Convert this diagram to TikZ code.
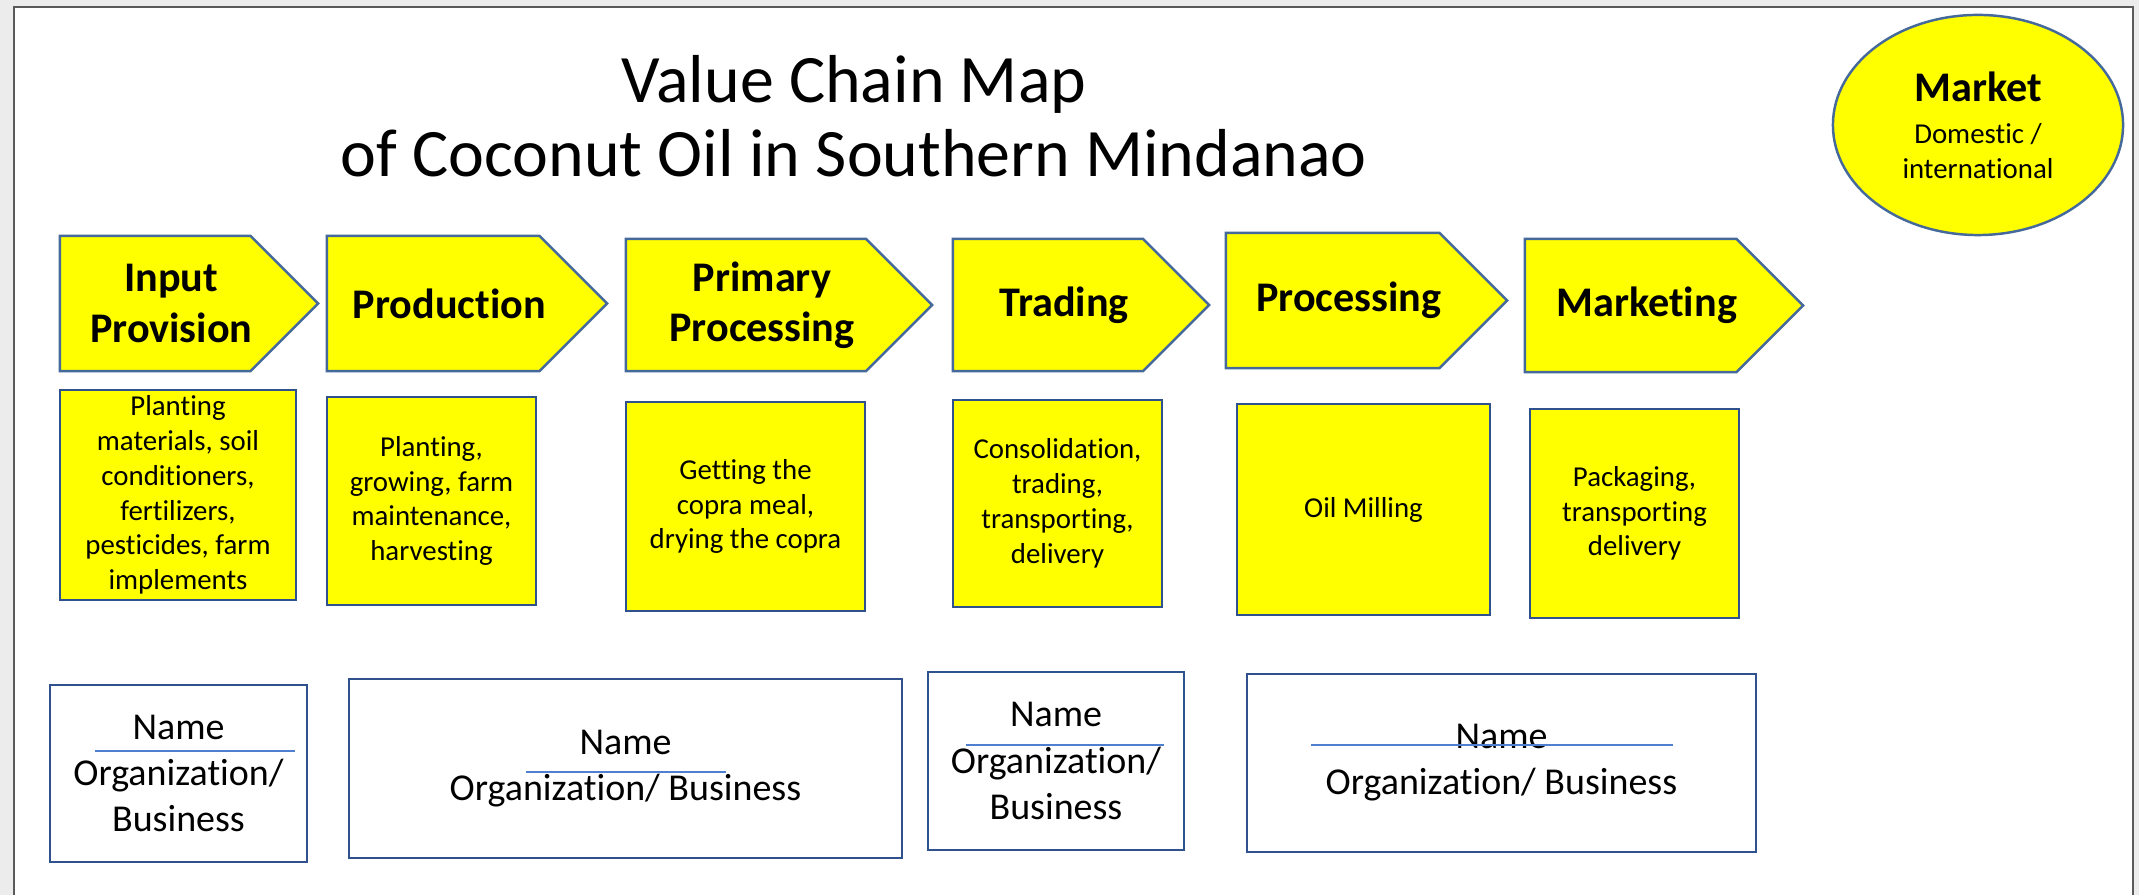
\documentclass[tikz,border=0pt]{standalone}
\usepackage{fontspec}
\setmainfont{Carlito}[Ligatures=NoCommon]
\usetikzlibrary{shapes.symbols,shapes.geometric}

\definecolor{chainyellow}{HTML}{FFFF00}
\definecolor{chainedge}{HTML}{44699A}
\definecolor{boxedge}{HTML}{2F528F}
\definecolor{sepblue}{HTML}{4F7FD0}
\definecolor{slidegray}{HTML}{ECECEC}
\definecolor{framegray}{HTML}{5A5A5A}

\tikzset{
  stage/.style={signal, signal to=east, signal pointer angle=90,
    draw=chainedge, fill=chainyellow, line width=0.7pt, inner sep=0pt},
  stagetext/.style={inner sep=0pt, align=center,
    font=\fontsize{12}{14.3}\selectfont\bfseries},
  task/.style={rectangle, draw=boxedge, fill=chainyellow, line width=0.7pt,
    inner sep=0pt, align=center, font=\fontsize{8.2}{9.9}\selectfont},
  actor/.style={rectangle, draw=boxedge, fill=white, line width=0.7pt,
    inner sep=0pt, align=center, font=\fontsize{10.8}{13.1}\selectfont},
  sepline/.style={draw=sepblue, line width=0.8pt}
}

\begin{document}
\begin{tikzpicture}[x=0.01cm,y=-0.01cm]

  \useasboundingbox (0,0) rectangle (2139,895);
  \fill[slidegray] (0,0) rectangle (2139,895);
  \draw[framegray, fill=white, line width=0.6pt] (14,7) rectangle (2133,905);

  % title
  \node[font=\fontsize{19.3}{21}\selectfont, anchor=base] (title1) at (854,103) {Value Chain Map};
  \node[font=\fontsize{19.3}{21}\selectfont, anchor=base] (title2) at (854,177) {of Coconut Oil in Southern Mindanao};

  \node[ellipse, draw=chainedge, fill=chainyellow, line width=0.7pt, inner sep=0pt,
        minimum width=2.90cm, minimum height=2.20cm, align=center,
        font=\fontsize{8.2}{10}\selectfont] (market) at (1978,125)
        {{\fontsize{12}{14}\selectfont\bfseries Market}\\[2pt]Domestic /\\international};

  \begin{scope}[every node/.style=stage]
    \node[minimum width=2.58cm, minimum height=1.35cm] (1) at (155.25,303.5) {};
    \node[minimum width=2.80cm, minimum height=1.35cm] (2) at (433.25,303.5) {};
    \node[minimum width=3.06cm, minimum height=1.32cm] (3) at (746,305) {};
    \node[minimum width=2.56cm, minimum height=1.32cm] (4) at (1048,305) {};
    \node[minimum width=2.81cm, minimum height=1.35cm] (5) at (1332.75,300.5) {};
    \node[minimum width=2.78cm, minimum height=1.33cm] (6) at (1630.75,305.5) {};
  \end{scope}

  \begin{scope}[every node/.style=stagetext]
    \node (l1) at ([xshift=0.16cm]1.center) {Input\\Provision};
    \node (l2) at ([xshift=0.16cm]2.center) {Production};
    \node (l3) at ([xshift=0.16cm]3.center) {Primary\\Processing};
    \node (l4) at ([xshift=0.16cm]4.center) {Trading};
    \node (l5) at ([xshift=0.16cm]5.center) {Processing};
    \node (l6) at ([xshift=0.16cm]6.center) {Marketing};
  \end{scope}

  \begin{scope}[every node/.style=task]
    \node[minimum width=2.36cm, minimum height=2.10cm] (t1) at (178,495)
      {Planting\\materials, soil\\conditioners,\\fertilizers,\\pesticides, farm\\implements};
    \node[minimum width=2.09cm, minimum height=2.08cm] (t2) at (431.5,501)
      {Planting,\\growing, farm\\maintenance,\\harvesting};
    \node[minimum width=2.39cm, minimum height=2.09cm] (t3) at (745.5,506.5)
      {Getting the\\copra meal,\\drying the copra};
    \node[minimum width=2.09cm, minimum height=2.07cm] (t4) at (1057.5,503.5)
      {Consolidation,\\trading,\\transporting,\\delivery};
    \node[minimum width=2.53cm, minimum height=2.11cm] (t5) at (1363.5,509.5) {Oil Milling};
    \node[minimum width=2.09cm, minimum height=2.09cm] (t6) at (1634.5,513.5)
      {Packaging,\\transporting\\delivery};
  \end{scope}

  \begin{scope}[every node/.style=actor]
    \node[minimum width=2.57cm, minimum height=1.77cm] (a1) at (178.5,773.5) {Name\\Organization/\\Business};
    \node[minimum width=5.53cm, minimum height=1.79cm] (a2) at (625.5,768.5) {Name\\Organization/ Business};
    \node[minimum width=2.56cm, minimum height=1.78cm] (a3) at (1056,761) {Name\\Organization/\\Business};
    \node[minimum width=5.09cm, minimum height=1.78cm] (a4) at (1501.5,763) {Name\\Organization/ Business};
  \end{scope}

  \draw[sepline] (95,751) -- (295,751);
  \draw[sepline] (526,772) -- (726,772);
  \draw[sepline] (966,745) -- (1164,745);
  \draw[sepline] (1311,745) -- (1673,745);

\end{tikzpicture}
\end{document}
